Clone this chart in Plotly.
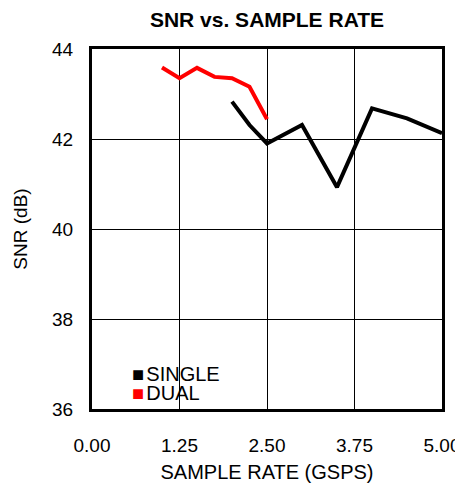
import plotly.graph_objects as go

# Data
dual_x = [1.00, 1.25, 1.50, 1.75, 2.00, 2.25, 2.50]
dual_snr = [43.59, 43.35, 43.58, 43.38, 43.35, 43.16, 42.44]
single_x = [2.00, 2.25, 2.50, 3.00, 3.50, 4.00, 4.50, 5.00]
single_snr = [42.83, 42.31, 41.90, 42.31, 40.93, 42.68, 42.46, 42.13]
series_names = ["SINGLE", "DUAL"]
series_colors = ["#000000", "#ff0000"]
x_ticks = [0.00, 1.25, 2.50, 3.75, 5.00]
x_tick_labels = ["0.00", "1.25", "2.50", "3.75", "5.00"]
y_ticks = [36, 38, 40, 42, 44]

FONT = "Liberation Sans, Arial, sans-serif"

fig = go.Figure()
fig.add_trace(go.Scatter(x=single_x, y=single_snr, mode="lines", name=series_names[0],
                         line=dict(color=series_colors[0], width=4), showlegend=False))
fig.add_trace(go.Scatter(x=dual_x, y=dual_snr, mode="lines", name=series_names[1],
                         line=dict(color=series_colors[1], width=4), showlegend=False))

for i, (name, col) in enumerate(zip(series_names, series_colors)):
    fig.add_annotation(x=0.109, y=0.097 - i * 0.053, xref="paper", yref="paper",
                       xanchor="left", yanchor="middle", showarrow=False,
                       text=f'<span style="color:{col}">■</span><span style="font-size:8px"> </span>{name}',
                       font=dict(family=FONT, size=20, color="black"))

# page body has an 8px margin -> figure drawn 8px in from the top-left
fig.update_layout(
    width=455, height=475,
    margin=dict(l=84, r=21, t=41, b=74, autoexpand=False),
    paper_bgcolor="white", plot_bgcolor="white",
    font=dict(family=FONT, size=19, color="black"),
    title=dict(text="<b>SNR vs. SAMPLE RATE</b>", x=0.5, xref="paper", y=0.976, yanchor="middle",
               font=dict(family=FONT, size=21, color="black"), automargin=False),
)
fig.update_xaxes(range=[0, 5], tickvals=x_ticks, ticktext=x_tick_labels,
                 showgrid=True, gridcolor="black", gridwidth=1,
                 showline=True, linecolor="black", linewidth=3, mirror=True,
                 ticks="", ticklabelstandoff=17, zeroline=False, automargin=False,
                 title=dict(text="SAMPLE RATE (GSPS)", standoff=11,
                            font=dict(family=FONT, size=20, color="black")))
fig.update_yaxes(range=[36, 44], tickvals=y_ticks,
                 showgrid=True, gridcolor="black", gridwidth=1,
                 showline=True, linecolor="black", linewidth=3, mirror=True,
                 ticks="", ticklabelstandoff=12, zeroline=False, automargin=False,
                 title=dict(text="SNR (dB)", standoff=20,
                            font=dict(family=FONT, size=19, color="black")))

fig.write_html("out.html")
